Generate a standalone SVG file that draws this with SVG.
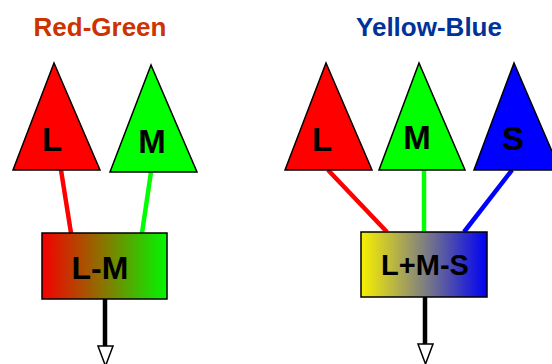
<svg xmlns="http://www.w3.org/2000/svg" width="552" height="364" viewBox="0 0 552 364">
<style>
.title{font-family:"Liberation Sans",Arial,sans-serif;font-weight:bold;font-size:26px;text-anchor:middle}
.lbl{font-family:"Liberation Sans",Arial,sans-serif;font-weight:bold;font-size:33px;text-anchor:middle;fill:#000}
.tri{stroke:#000;stroke-width:1.5;stroke-linejoin:miter}
.box{stroke:#000;stroke-width:1.5}
.wire{stroke-width:4.5;fill:none}
.out{stroke:#000;stroke-width:4.5;fill:none}
.head{fill:#fff;stroke:#000;stroke-width:1.5}
</style>
<defs>
<linearGradient id="rg" x1="0" y1="0" x2="1" y2="0">
<stop offset="0" stop-color="#f40000"/>
<stop offset="0.5" stop-color="#887700"/>
<stop offset="1" stop-color="#00f800"/>
</linearGradient>
<linearGradient id="yb" x1="0" y1="0" x2="1" y2="0">
<stop offset="0" stop-color="#f8f000"/>
<stop offset="0.5" stop-color="#808080"/>
<stop offset="1" stop-color="#0000f4"/>
</linearGradient>
</defs>
<text class="title" x="100" y="36" fill="#cc3300">Red-Green</text>
<text class="title" x="429" y="36" fill="#003399">Yellow-Blue</text>
<g id="connectors">
<line class="wire" stroke="#ff0000" x1="61" y1="170" x2="71" y2="233"/>
<line class="wire" stroke="#00ff00" x1="151" y1="172" x2="142" y2="233"/>
<line class="wire" stroke="#ff0000" x1="328" y1="170" x2="387" y2="232"/>
<line class="wire" stroke="#00ff00" x1="424" y1="170" x2="424" y2="232"/>
<line class="wire" stroke="#0000ff" x1="512" y1="170" x2="464" y2="232"/>
<line class="out" x1="105" y1="299" x2="105" y2="346"/>
<path class="head" d="M98,346 L113,346 L105.5,366 Z"/>
<line class="out" x1="425" y1="297" x2="425" y2="344"/>
<path class="head" d="M418,344 L433,344 L425.5,364 Z"/>
</g>
<g id="rg-L">
<path class="tri" fill="#ff0000" d="M54,63 L13,170 L100,170 Z"/>
<text class="lbl" x="52" y="151">L</text>
</g>
<g id="rg-M">
<path class="tri" fill="#00ff00" d="M151,65 L110,172 L197,172 Z"/>
<text class="lbl" x="152" y="153">M</text>
</g>
<g id="rg-box">
<rect class="box" x="42" y="233" width="125" height="66" fill="url(#rg)"/>
<text class="lbl" x="100" y="279" style="font-size:32px">L-M</text>
</g>
<g id="yb-L">
<path class="tri" fill="#ff0000" d="M326,63 L285,170 L372,170 Z"/>
<text class="lbl" x="322" y="151">L</text>
</g>
<g id="yb-M">
<path class="tri" fill="#00ff00" d="M419,63 L379,170 L465,170 Z"/>
<text class="lbl" x="417" y="149">M</text>
</g>
<g id="yb-S">
<path class="tri" fill="#0000ff" d="M514,63 L474,170 L560,170 Z"/>
<text class="lbl" x="513" y="150">S</text>
</g>
<g id="yb-box">
<rect class="box" x="361" y="232" width="126" height="65" fill="url(#yb)"/>
<text class="lbl" x="425" y="275" style="font-size:29px">L+M-S</text>
</g>
</svg>
